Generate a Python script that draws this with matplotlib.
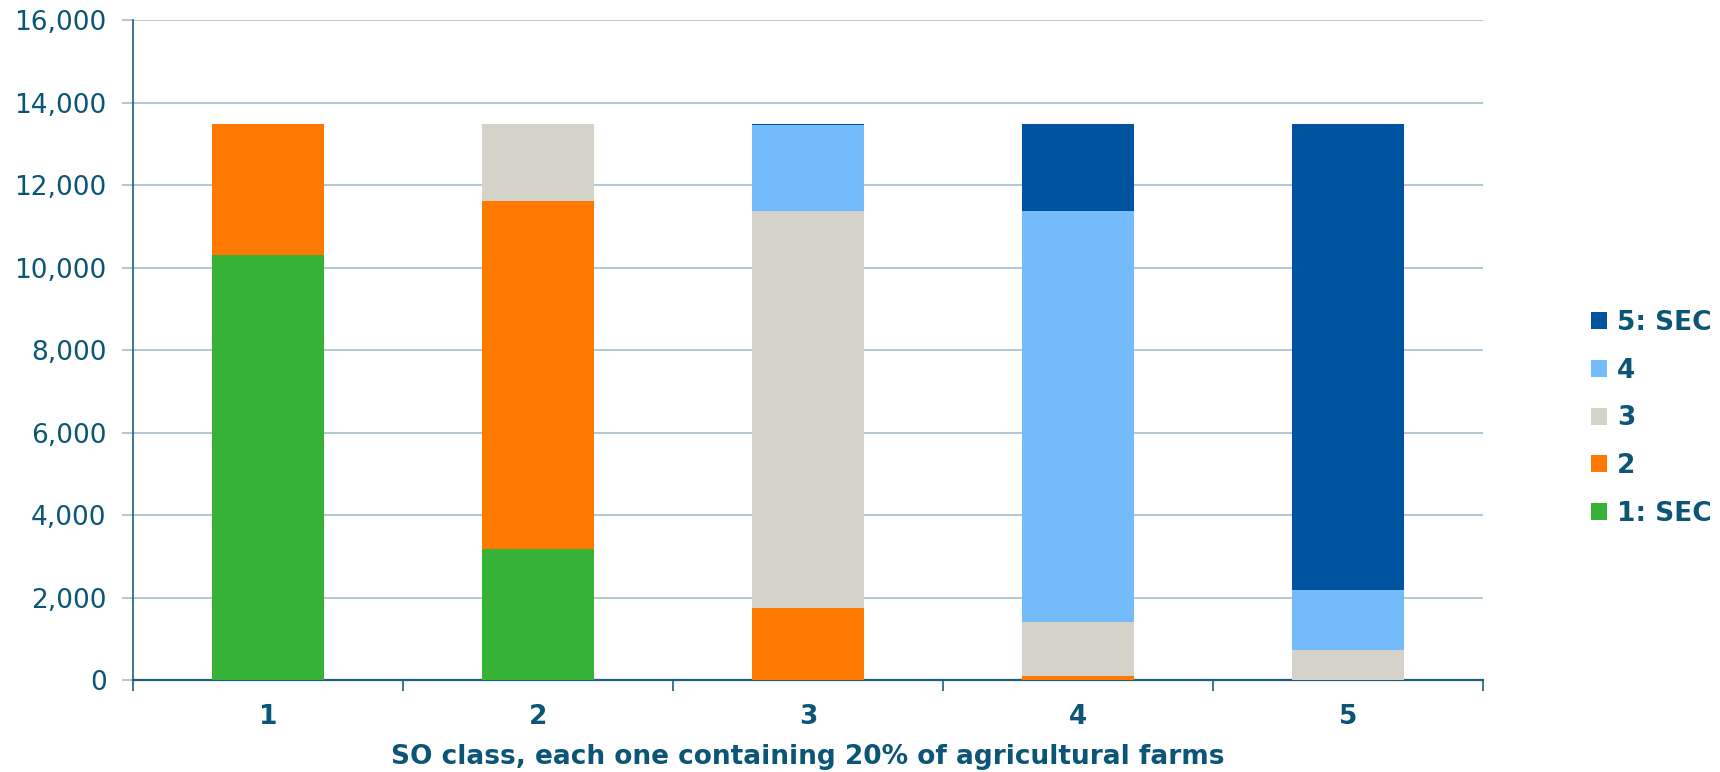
import matplotlib
matplotlib.use("Agg")
import matplotlib.pyplot as plt
import numpy as np

categories = ["1", "2", "3", "4", "5"]
series_names = ["1: SEC", "2", "3", "4", "5: SEC"]
s1 = [10310, 3190, 0, 0, 0]
s2 = [3180, 8430, 1750, 100, 0]
s3 = [0, 1870, 9630, 1300, 720]
s4 = [0, 0, 2075, 9980, 1460]
s5 = [0, 0, 35, 2110, 11310]
colors = ["#36B236", "#FF7800", "#D5D2CA", "#74BBFC", "#00539F"]
yticks = [0, 2000, 4000, 6000, 8000, 10000, 12000, 14000, 16000]

txt = "#0B5676"
axc = "#1F5F7F"
grid = "#A3BFCB"

plt.rcParams['font.family'] = ['DejaVu Sans']
fig = plt.figure(figsize=(17.2, 7.72), dpi=100)
ax = fig.add_axes([0.0773, 0.119, 0.785, 0.855])

x = np.arange(len(categories))
bottom = np.zeros(len(categories))
handles = []
for name, vals, c in zip(series_names, [s1, s2, s3, s4, s5], colors):
    v = np.array(vals, dtype=float)
    b = ax.bar(x, v, bottom=bottom, width=0.415, color=c, label=name, zorder=3)
    handles.append(b)
    bottom += v

ax.set_xlim(-0.5, len(categories) - 0.5)
ax.set_ylim(0, 16000)
ax.set_yticks(yticks)
ax.set_yticklabels([f"{t:,}" for t in yticks], fontsize=19, color=txt)
ax.yaxis.grid(True, color=grid, linewidth=1.2, zorder=0)
ax.set_axisbelow(True)

ax.set_xticks(x)
ax.set_xticklabels(categories, fontsize=19, fontweight='bold', color=txt)
ax.set_xticks(np.arange(-0.5, len(categories)), minor=True)
ax.tick_params(axis='x', which='major', length=0, pad=17)
ax.tick_params(axis='x', which='minor', length=8, color=axc, width=1.2, direction='out')
ax.tick_params(axis='y', length=8, color=grid, width=1.2, pad=11)

for s in ['top', 'right']:
    ax.spines[s].set_visible(False)
ax.spines['left'].set_color(axc)
ax.spines['bottom'].set_color(axc)
ax.spines['left'].set_linewidth(1.2)
ax.spines['bottom'].set_linewidth(1.6)

ax.set_xlabel("SO class, each one containing 20% of agricultural farms",
              fontsize=19, fontweight='bold', color=txt, labelpad=10)

leg = fig.legend(handles[::-1], series_names[::-1], loc='center left',
                 bbox_to_anchor=(0.911, 0.458), frameon=False,
                 prop={'size': 19, 'weight': 'bold'}, handlelength=0.6,
                 handleheight=0.6, handletextpad=0.4, labelspacing=0.82)
for t in leg.get_texts():
    t.set_color(txt)

fig.savefig("out.png", dpi=100)
